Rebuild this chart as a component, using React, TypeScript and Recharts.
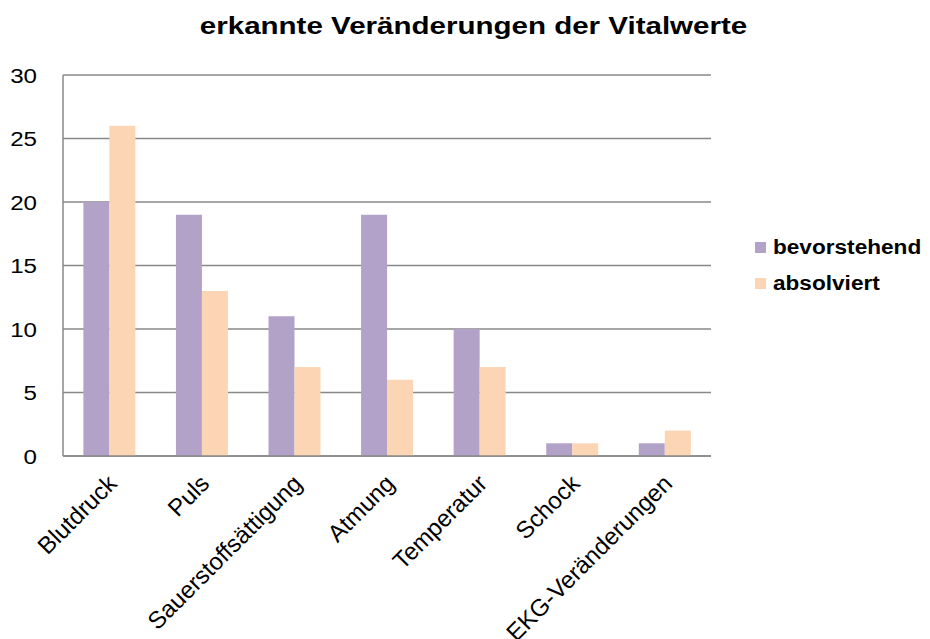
import React from "react";
import { BarChart, Bar, XAxis, YAxis, CartesianGrid, Legend } from "recharts";

const categories = ["Blutdruck", "Puls", "Sauerstoffsättigung", "Atmung", "Temperatur", "Schock", "EKG-Veränderungen"];
const bevorstehend = [20, 19, 11, 19, 10, 1, 1];
const absolviert = [26, 13, 7, 6, 7, 1, 2];
const yTicks = [0, 5, 10, 15, 20, 25, 30];
const seriesNames = ["bevorstehend", "absolviert"];
const colors = ["#B3A2C7", "#FCD5B5"];
const title = "erkannte Veränderungen der Vitalwerte";

const data = categories.map((c, i) => ({ name: c, bevorstehend: bevorstehend[i], absolviert: absolviert[i] }));

const FONT = "'Liberation Sans', Arial, sans-serif";

const YTick = (props: any) => {
  const { x, y, payload } = props;
  return (
    <text
      transform={`translate(${x - 26},${y}) scale(1.15,1)`}
      textAnchor="end"
      dy="0.36em"
      fontFamily={FONT}
      fontSize={21}
      fill="#000"
    >
      {payload.value}
    </text>
  );
};

const XTick = (props: any) => {
  const { x, y, payload } = props;
  return (
    <text
      transform={`translate(${x + 9},${y + 29}) rotate(-45)`}
      textAnchor="end"
      fontFamily={FONT}
      fontSize={24}
      fill="#000"
    >
      {payload.value}
    </text>
  );
};

const LegendContent = () => (
  <div style={{ fontFamily: FONT }}>
    {seriesNames.map((n, i) => (
      <div key={n} style={{ display: "flex", alignItems: "center", height: 36 }}>
        <div style={{ width: 11, height: 11, background: colors[i], marginRight: 7 }} />
        <span
          style={{
            fontSize: 20,
            fontWeight: "bold",
            color: "#000",
            display: "inline-block",
            transform: "scaleX(1.13)",
            transformOrigin: "left center",
            whiteSpace: "nowrap",
          }}
        >
          {n}
        </span>
      </div>
    ))}
  </div>
);

export default function App() {
  return (
    <div style={{ position: "absolute", left: 0, top: 0, width: 930, height: 639, background: "#fff" }}>
      <div
        style={{
          position: "absolute",
          left: 9,
          top: 14,
          width: 930,
          textAlign: "center",
          lineHeight: "24px",
          fontFamily: FONT,
          fontSize: 24,
          fontWeight: "bold",
          color: "#000",
          zIndex: 2,
        }}
      >
        <span style={{ display: "inline-block", transform: "scaleX(1.23)", transformOrigin: "center", whiteSpace: "nowrap" }}>{title}</span>
      </div>
      <BarChart
        width={930}
        height={639}
        data={data}
        margin={{ top: 75, right: 219, bottom: 0, left: 0 }}
        barCategoryGap="22%"
        barGap={0}
      >
        <CartesianGrid vertical={false} stroke="#888888" strokeWidth={1.5} />
        <XAxis
          dataKey="name"
          height={183}
          interval={0}
          tickLine={false}
          tickSize={0}
          tickMargin={0}
          axisLine={{ stroke: "#888888", strokeWidth: 1.5 }}
          tick={<XTick />}
        />
        <YAxis
          width={63}
          domain={[0, 30]}
          ticks={yTicks}
          tickLine={false}
          tickSize={0}
          tickMargin={0}
          axisLine={{ stroke: "#888888", strokeWidth: 1.5 }}
          tick={<YTick />}
        />
        <Legend
          layout="vertical"
          align="center"
          verticalAlign="middle"
          content={<LegendContent />}
          wrapperStyle={{ left: 755, top: 229, width: 175 }}
        />
        {seriesNames.map((n, i) => (
          <Bar key={n} dataKey={n} fill={colors[i]} isAnimationActive={false} />
        ))}
      </BarChart>
    </div>
  );
}
